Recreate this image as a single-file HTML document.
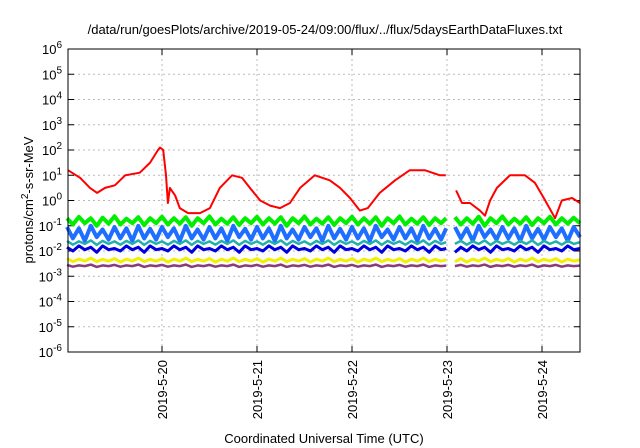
<!DOCTYPE html>
<html><head><meta charset="utf-8"><style>
body{margin:0;background:#fff;}
svg{display:block;font-family:"Liberation Sans",sans-serif;}
</style></head><body>
<svg id="chart" width="640" height="448"></svg>
<script>
const tickDays=["2019-5-20","2019-5-21","2019-5-22","2019-5-23","2019-5-24"];
const tickDayHours=[24,48,72,96,120];
const yTickExps=[-6,-5,-4,-3,-2,-1,0,1,2,3,4,5,6];
const redT=[0.25,3.3,5.8,7.6,9.6,12.1,14.7,18.4,21,23,23.5,24.3,25,25.5,26,27.3,28.5,30.6,33.6,36.1,38.6,41.7,44.2,46.2,48.8,51.3,53.8,56.3,58.9,62.6,66.4,69,71.5,74,76,79,82.9,86.6,90.4,94.2,95.7,null,98.3,99.8,101.8,104.3,105.6,106.9,108.6,111.9,115.7,118.2,120.8,123.3,125,127.6,129.6];
const redV=[1.2,0.9,0.5,0.3,0.5,0.6,1.0,1.1,1.5,2.0,2.1,2.0,1.0,-0.1,0.5,0.2,-0.3,-0.5,-0.5,-0.3,0.5,1.0,0.9,0.5,0.0,-0.2,-0.3,-0.1,0.5,1.0,0.8,0.5,0.1,-0.4,-0.3,0.3,0.8,1.2,1.2,1.0,1.0,null,0.4,-0.1,-0.1,-0.4,-0.6,0.0,0.5,1.0,1.0,0.7,0.0,-0.7,0.0,0.1,-0.1];
const bandT=[0,1.5,3,4.5,6,7.5,9,10.5,12,13.5,15,16.5,18,19.5,21,22.5,24,25.5,27,28.5,30,31.5,33,34.5,36,37.5,39,40.5,42,43.5,45,46.5,48,49.5,51,52.5,54,55.5,57,58.5,60,61.5,63,64.5,66,67.5,69,70.5,72,73.5,75,76.5,78,79.5,81,82.5,84,85.5,87,88.5,90,91.5,93,94.5,95.8,null,98,99.5,101,102.5,104,105.5,107,108.5,110,111.5,113,114.5,116,117.5,119,120.5,122,123.5,125,126.5,128,129.6];
const green=[-0.7,-0.95,-0.65,-0.9,-0.7,-1.0,-0.68,-0.92,-0.62,-0.95,-0.72,-0.9,-0.66,-0.98,-0.7,-0.9,-0.64,-0.95,-0.7,-0.92,-0.66,-1.0,-0.7,-0.9,-0.63,-0.95,-0.72,-0.92,-0.66,-0.97,-0.7,-0.9,-0.64,-0.95,-0.7,-0.92,-0.66,-1.0,-0.7,-0.9,-0.63,-0.95,-0.72,-0.92,-0.66,-0.97,-0.7,-0.9,-0.64,-0.95,-0.7,-0.92,-0.66,-1.0,-0.7,-0.9,-0.63,-0.95,-0.72,-0.92,-0.66,-0.97,-0.7,-0.9,-0.7,null,-0.66,-0.95,-0.7,-0.92,-0.64,-1.0,-0.7,-0.9,-0.63,-0.95,-0.72,-0.92,-0.66,-0.97,-0.7,-0.9,-0.64,-0.95,-0.7,-0.92,-0.68,-0.9];
const lblue=[-1.05,-1.5,-1.1,-1.6,-1.0,-1.45,-1.15,-1.55,-1.05,-1.5,-1.1,-1.6,-1.0,-1.5,-1.12,-1.55,-1.05,-1.45,-1.1,-1.6,-1.0,-1.5,-1.15,-1.55,-1.05,-1.5,-1.1,-1.6,-1.0,-1.45,-1.12,-1.55,-1.05,-1.5,-1.1,-1.6,-1.0,-1.5,-1.15,-1.55,-1.05,-1.45,-1.1,-1.6,-1.0,-1.5,-1.12,-1.55,-1.05,-1.5,-1.1,-1.6,-1.0,-1.45,-1.15,-1.55,-1.05,-1.5,-1.1,-1.6,-1.0,-1.5,-1.12,-1.55,-1.1,null,-1.05,-1.5,-1.1,-1.6,-1.0,-1.45,-1.15,-1.55,-1.05,-1.5,-1.1,-1.6,-1.0,-1.5,-1.12,-1.55,-1.05,-1.45,-1.1,-1.6,-1.05,-1.45];
const dblue=[-1.85,-2.0,-1.8,-1.95,-1.85,-2.05,-1.8,-1.95,-1.9,-2.0,-1.8,-1.95,-1.85,-2.05,-1.8,-1.95,-1.9,-2.0,-1.8,-1.95,-1.85,-2.05,-1.8,-1.95,-1.9,-2.0,-1.8,-1.95,-1.85,-2.05,-1.8,-1.95,-1.9,-2.0,-1.8,-1.95,-1.85,-2.05,-1.8,-1.95,-1.9,-2.0,-1.8,-1.95,-1.85,-2.05,-1.8,-1.95,-1.9,-2.0,-1.8,-1.95,-1.85,-2.05,-1.8,-1.95,-1.9,-2.0,-1.8,-1.95,-1.85,-2.05,-1.8,-1.95,-1.9,null,-2.05,-1.85,-2.0,-1.8,-1.95,-1.85,-2.05,-1.8,-1.95,-1.9,-2.0,-1.8,-1.95,-1.85,-2.05,-1.8,-1.95,-1.9,-2.0,-1.8,-1.95,-1.9];
const teal=[-1.6,-1.75,-1.62,-1.72,-1.58,-1.76,-1.6,-1.72,-1.62,-1.75,-1.6,-1.72,-1.58,-1.76,-1.6,-1.72,-1.62,-1.75,-1.6,-1.72,-1.58,-1.76,-1.6,-1.72,-1.62,-1.75,-1.6,-1.72,-1.58,-1.76,-1.6,-1.72,-1.62,-1.75,-1.6,-1.72,-1.58,-1.76,-1.6,-1.72,-1.62,-1.75,-1.6,-1.72,-1.58,-1.76,-1.6,-1.72,-1.62,-1.75,-1.6,-1.72,-1.58,-1.76,-1.6,-1.72,-1.62,-1.75,-1.6,-1.72,-1.58,-1.76,-1.6,-1.72,-1.65,null,-1.72,-1.6,-1.75,-1.62,-1.72,-1.58,-1.76,-1.6,-1.72,-1.62,-1.75,-1.6,-1.72,-1.58,-1.76,-1.6,-1.72,-1.62,-1.75,-1.6,-1.72,-1.65];
const yellow=[-2.3,-2.42,-2.32,-2.4,-2.28,-2.42,-2.33,-2.4,-2.3,-2.44,-2.32,-2.4,-2.28,-2.42,-2.33,-2.4,-2.3,-2.44,-2.32,-2.4,-2.28,-2.42,-2.33,-2.4,-2.3,-2.44,-2.32,-2.4,-2.28,-2.42,-2.33,-2.4,-2.3,-2.44,-2.32,-2.4,-2.28,-2.42,-2.33,-2.4,-2.3,-2.44,-2.32,-2.4,-2.28,-2.42,-2.33,-2.4,-2.3,-2.44,-2.32,-2.4,-2.28,-2.42,-2.33,-2.4,-2.3,-2.44,-2.32,-2.4,-2.28,-2.42,-2.33,-2.4,-2.35,null,-2.42,-2.3,-2.44,-2.32,-2.4,-2.28,-2.42,-2.33,-2.4,-2.3,-2.44,-2.32,-2.4,-2.28,-2.42,-2.33,-2.4,-2.3,-2.44,-2.32,-2.4,-2.35];
const purple=[-2.55,-2.62,-2.57,-2.6,-2.54,-2.63,-2.57,-2.6,-2.55,-2.62,-2.57,-2.6,-2.54,-2.63,-2.57,-2.6,-2.55,-2.62,-2.57,-2.6,-2.54,-2.63,-2.57,-2.6,-2.55,-2.62,-2.57,-2.6,-2.54,-2.63,-2.57,-2.6,-2.55,-2.62,-2.57,-2.6,-2.54,-2.63,-2.57,-2.6,-2.55,-2.62,-2.57,-2.6,-2.54,-2.63,-2.57,-2.6,-2.55,-2.62,-2.57,-2.6,-2.54,-2.63,-2.57,-2.6,-2.55,-2.62,-2.57,-2.6,-2.54,-2.63,-2.57,-2.6,-2.58,null,-2.6,-2.55,-2.62,-2.57,-2.6,-2.54,-2.63,-2.57,-2.6,-2.55,-2.62,-2.57,-2.6,-2.54,-2.63,-2.57,-2.6,-2.55,-2.62,-2.57,-2.6,-2.58];

const L=68,R=580,T=49,B=352,X0=67,PXH=95/24;
const xS=h=>X0+h*PXH;
const yS=e=>B-(e+6)*(B-T)/12;
const NS="http://www.w3.org/2000/svg";
const svg=document.getElementById('chart');
function mk(tag,attrs,parent){const e=document.createElementNS(NS,tag);for(const k in attrs)e.setAttribute(k,attrs[k]);(parent||svg).appendChild(e);return e;}

yTickExps.forEach(e=>{
  if(e>-6&&e<6){const g=mk('line',{x1:L,x2:R,y1:yS(e),y2:yS(e),stroke:'#bbb','stroke-dasharray':'2,3','stroke-width':1});
  
  }
  const tk=mk('line',{x1:L,x2:L+6,y1:yS(e),y2:yS(e),stroke:'#000'});
  
  
  const tk2=mk('line',{x1:R-6,x2:R,y1:yS(e),y2:yS(e),stroke:'#000'});
  
  
  const t=mk('text',{x:L-6,y:yS(e)+5,'text-anchor':'end','font-size':13});
  
  
  t.textContent='10';
  const s=mk('tspan',{dy:-6,'font-size':10},t);s.textContent=String(e);
});
tickDayHours.forEach((h,i)=>{
  const x=xS(h);
  const g=mk('line',{x1:x,x2:x,y1:T,y2:B,stroke:'#bbb','stroke-dasharray':'2,3'});
  
  
  const tk=mk('line',{x1:x,x2:x,y1:B-6,y2:B,stroke:'#000'});
  
  
  const tk2=mk('line',{x1:x,x2:x,y1:T,y2:T+6,stroke:'#000'});
  
  
  const t=mk('text',{x:x+5,y:B+8,'text-anchor':'end','font-size':13,transform:`rotate(-90 ${x+5} ${B+8})`});
  
  
  t.textContent=tickDays[i];
});
function series(ts,vs,color,w,name){
  let d='',pen=false;
  ts.forEach((t,i)=>{const v=vs[i];if(t===null||v===null||v===undefined){pen=false;return;}
    d+=(pen?'L':'M')+xS(t).toFixed(1)+' '+yS(v).toFixed(1);pen=true;});
  const p=mk('path',{d:d,fill:'none',stroke:color,'stroke-width':w,'stroke-linejoin':'round'});
  
  
}
series(bandT,purple,'#8b3a7a',2.5,'series-purple');
series(bandT,yellow,'#f0f000',3,'series-yellow');
series(bandT,dblue,'#0000e0',3,'series-dark-blue');
series(bandT,lblue,'#1e6fff',4,'series-light-blue');
series(bandT,teal,'#20b2aa',2.5,'series-teal');
series(bandT,green,'#00ee00',4,'series-green');
series(redT,redV,'#ff0000',2,'series-red');
const fr=mk('rect',{x:L,y:T,width:R-L,height:B-T,fill:'none',stroke:'#000','stroke-width':1});


const ti=mk('text',{x:325,y:34,'text-anchor':'middle','font-size':13});


ti.textContent='/data/run/goesPlots/archive/2019-05-24/09:00/flux/../flux/5daysEarthDataFluxes.txt';
const xt=mk('text',{x:324,y:443,'text-anchor':'middle','font-size':13});


xt.textContent='Coordinated Universal Time (UTC)';
const yt=mk('text',{x:33,y:200,'text-anchor':'middle','font-size':13,transform:'rotate(-90 33 200)'});


yt.textContent='protons/cm';
const sup=mk('tspan',{dy:-5,'font-size':10},yt);sup.textContent='2';
const rest=mk('tspan',{dy:5},yt);rest.textContent='-s-sr-MeV';
</script>
</body></html>
